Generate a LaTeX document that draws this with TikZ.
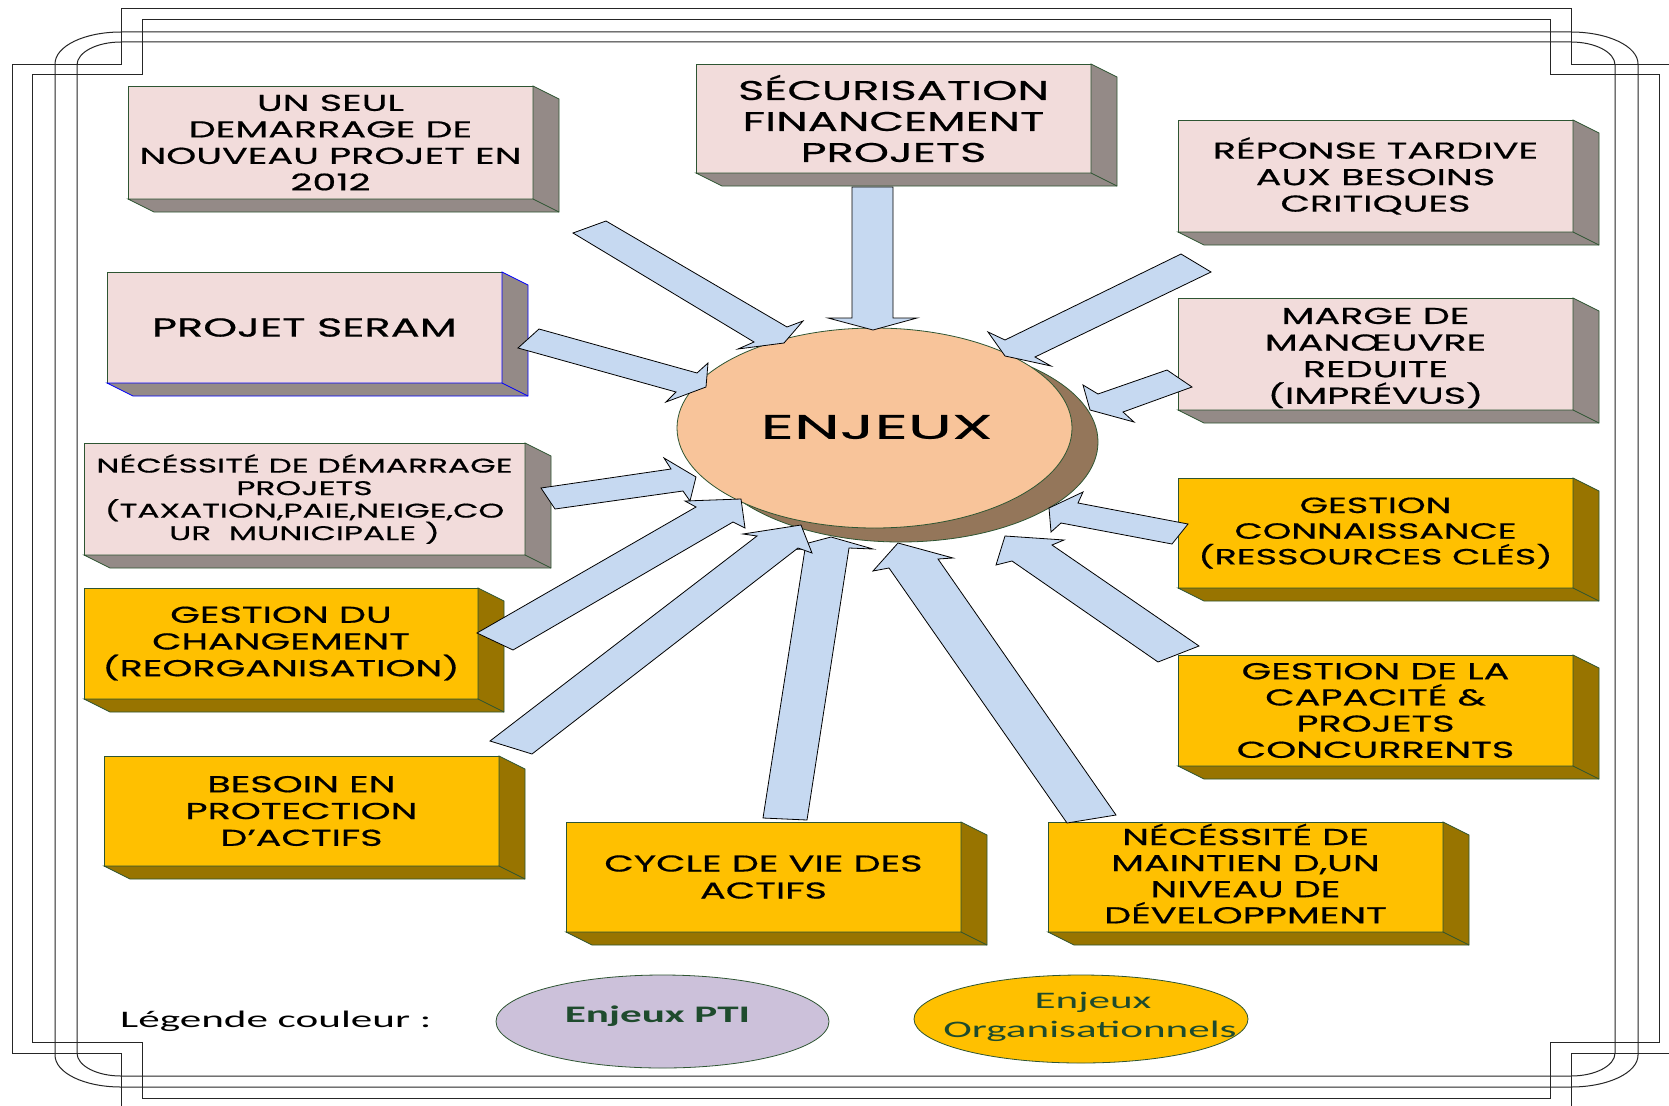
\documentclass[tikz,border=0pt]{standalone}
\usepackage{fontspec}
\usetikzlibrary{shapes.geometric}
\newfontfamily\bxf[FakeStretch=1.66,FakeBold=0.6]{Poppins}
\newfontfamily\bigf[FakeStretch=1.92,FakeBold=0.6]{Poppins}
\newfontfamily\lgf[FakeStretch=1.82]{Carlito}
\definecolor{pinkf}{HTML}{F2DCDB}
\definecolor{pinks}{HTML}{948A87}
\definecolor{goldf}{HTML}{FFC000}
\definecolor{golds}{HTML}{987400}
\definecolor{edgec}{HTML}{2E5532}
\definecolor{arrowf}{HTML}{C6D9F1}
\definecolor{ellf}{HTML}{F8C49A}
\definecolor{ells}{HTML}{94765A}
\definecolor{ptif}{HTML}{CCC1DA}
\definecolor{legtxt}{HTML}{1E4B2D}
\tikzset{
  frameline/.style={line width=1pt, draw=black!85},
  bx/.style={draw=edgec, line width=0.8pt, inner sep=0pt, outer sep=0pt, align=center, text=black},
  pinkbox/.style={bx, fill=pinkf},
  goldbox/.style={bx, fill=goldf},
  blockarrow/.style={fill=arrowf, draw=black, line width=0.8pt, line join=miter},
}
\newcommand\tbox[8]{% name, style, cx, cy, w, h, font, text
  \node[#2, minimum width=#5pt, minimum height=#6pt, font=#7] (#1) at (#3,#4) {#8};}
\newcommand\extrude[3]{% name, fill, edge
  \filldraw[fill=#2, draw=#3, line width=0.8pt, line join=miter]
    (#1.north east) -- ([shift={(26,13)}]#1.north east) -- ([shift={(26,13)}]#1.south east)
    -- ([shift={(26,13)}]#1.south west) -- (#1.south west) -- (#1.south east) -- cycle;
  \draw[#3, line width=0.8pt] (#1.south east) -- ([shift={(26,13)}]#1.south east);}
\begin{document}
\begin{tikzpicture}[x=1pt,y=-1pt]
\useasboundingbox (0,0) rectangle (1669,1105);
\clip (0,0) rectangle (1669,1105);
\fill[white] (0,0) rectangle (1669,1105);
% ---- frame ----
\draw[frameline] (121,9) -- (1571,9) -- (1571,65) -- (1682,65) -- (1682,1053) -- (1571,1053) -- (1571,1110)
  -- (121,1110) -- (121,1053) -- (12,1053) -- (12,65) -- (121,65) -- cycle;
\draw[frameline] (142,20) -- (1550,20) -- (1550,75) -- (1659,75) -- (1659,1042) -- (1550,1042) -- (1550,1098)
  -- (142,1098) -- (142,1042) -- (32,1042) -- (32,75) -- (142,75) -- cycle;
\draw[frameline] (121,32) -- (1571,32) .. controls (1607.5,32) and (1638,46) .. (1638,64) -- (1638,1055)
  .. controls (1638,1073) and (1607.5,1087) .. (1571,1087) -- (121,1087)
  .. controls (84.5,1087) and (55,1073) .. (55,1055) -- (55,64)
  .. controls (55,46) and (84.5,32) .. (121,32) -- cycle;
\draw[frameline] (121,42) -- (1571,42) .. controls (1595.3,42) and (1615,52.3) .. (1615,65) -- (1615,1053)
  .. controls (1615,1065.7) and (1595.3,1076) .. (1571,1076) -- (121,1076)
  .. controls (96.7,1076) and (77,1065.7) .. (77,1053) -- (77,65)
  .. controls (77,52.3) and (96.7,42) .. (121,42) -- cycle;
% ---- boxes ----
\tbox{b1}{pinkbox}{330.5}{142.5}{405}{113}{\bxf\fontsize{23}{26.5}\selectfont}{UN SEUL\\DEMARRAGE DE\\NOUVEAU PROJET EN\\2012}
\extrude{b1}{pinks}{edgec}
\tbox{b2}{pinkbox}{893.5}{118.5}{395}{109}{\bxf\fontsize{27}{31}\selectfont}{SÉCURISATION\\FINANCEMENT\\PROJETS}
\extrude{b2}{pinks}{edgec}
\tbox{b3}{pinkbox}{1375.5}{176}{395}{112}{\bxf\fontsize{23}{26.5}\selectfont}{RÉPONSE TARDIVE\\AUX BESOINS\\CRITIQUES}
\extrude{b3}{pinks}{edgec}
\tbox{b4}{pinkbox}{304.5}{327.5}{395}{111}{\bxf\fontsize{26}{30}\selectfont}{PROJET SERAM}
\extrude{b4}{pinks}{blue}
\tbox{b5}{pinkbox}{1375.5}{354}{395}{112}{\bxf\fontsize{23}{26.6}\selectfont}{\rule{0pt}{24pt}MARGE DE\\MANŒUVRE\\REDUITE\\(IMPRÉVUS)}
\extrude{b5}{pinks}{edgec}
\tbox{b6}{pinkbox}{304.5}{499}{441}{112}{\bxf\fontsize{19.8}{22.5}\selectfont}{NÉCÉSSITÉ DE DÉMARRAGE\\PROJETS\\(TAXATION,PAIE,NEIGE,CO\\UR\ \ MUNICIPALE )}
\extrude{b6}{pinks}{edgec}
\tbox{b7}{goldbox}{1375.5}{533}{395}{110}{\bxf\fontsize{22}{25.7}\selectfont}{GESTION\\CONNAISSANCE\\(RESSOURCES CLÉS)}
\extrude{b7}{golds}{edgec}
\tbox{b8}{goldbox}{281}{643.5}{394}{111}{\bxf\fontsize{23}{26.7}\selectfont}{GESTION DU\\CHANGEMENT\\(REORGANISATION)}
\extrude{b8}{golds}{edgec}
\tbox{b9}{goldbox}{1375.5}{710.5}{395}{111}{\bxf\fontsize{23}{26.2}\selectfont}{GESTION DE LA\\CAPACITÉ \&\\PROJETS\\CONCURRENTS}
\extrude{b9}{golds}{edgec}
\tbox{b10}{goldbox}{301.5}{811}{395}{110}{\bxf\fontsize{23}{26.8}\selectfont}{BESOIN EN\\PROTECTION\\D’ACTIFS}
\extrude{b10}{golds}{edgec}
\tbox{b11}{goldbox}{763.5}{877}{395}{110}{\bxf\fontsize{23}{27}\selectfont}{CYCLE DE VIE DES\\ACTIFS}
\extrude{b11}{golds}{edgec}
\tbox{b12}{goldbox}{1245.5}{877}{395}{110}{\bxf\fontsize{23}{26.1}\selectfont}{NÉCÉSSITÉ DE\\MAINTIEN D,UN\\NIVEAU DE\\DÉVELOPPMENT\rule[-7pt]{0pt}{7pt}}
\extrude{b12}{golds}{edgec}
% ---- central ellipse ----
\filldraw[fill=ells, draw=edgec, line width=0.8pt] (900.5,442) ellipse [x radius=197.5, y radius=100];
\filldraw[fill=ellf, draw=edgec, line width=0.8pt] (874.5,428) ellipse [x radius=197.5, y radius=100];
\node[inner sep=0pt, font=\bigf\fontsize{34}{36}\selectfont] (enj) at (876.5,427) {ENJEUX};
% ---- block arrows ----
\draw[blockarrow] (763,818) -- (805,549) -- (782,550) -- (831,537) -- (873,549) -- (849,548) -- (807,820) -- cycle;
\draw[blockarrow] (1067,823) -- (889,568) -- (873,571) -- (898,543) -- (953,558) -- (938,559) -- (1116,815) -- cycle;
\draw[blockarrow] (477,633) -- (696,507) -- (685,501) -- (741,499) -- (745,528) -- (733,522) -- (513,650) -- cycle;
\draw[blockarrow] (490,741) -- (757,536) -- (743,534) -- (801,525) -- (812,553) -- (798,548) -- (532,754) -- cycle;
\draw[blockarrow] (541,488) -- (671,469) -- (664,458) -- (696,477) -- (690,501) -- (683,491) -- (555,509) -- cycle;
\draw[blockarrow] (573,233) -- (606,221) -- (787,327) -- (803,321) -- (784,343) -- (738,349) -- (754,342) -- cycle;
\draw[blockarrow] (852,187) -- (893,187) -- (893,318) -- (917,318) -- (873,330) -- (828,318) -- (852,318) -- cycle;
\draw[blockarrow] (1181,254) -- (1211,272) -- (1035,357) -- (1051,366) -- (1005,356) -- (988,332) -- (1005,340) -- cycle;
\draw[blockarrow] (539,329) -- (697,373) -- (708,363) -- (706,387) -- (666,402) -- (676,392) -- (518,348) -- cycle;
\draw[blockarrow] (1167,370) -- (1192,387) -- (1123,412) -- (1134,422) -- (1090,410) -- (1083,385) -- (1098,394) -- cycle;
\draw[blockarrow] (1188,524) -- (1078,503) -- (1083,492) -- (1049,508) -- (1051,532) -- (1061,523) -- (1172,544) -- cycle;
\draw[blockarrow] (1158,662) -- (1012,561) -- (996,565) -- (1005,536) -- (1064,540) -- (1052,545) -- (1199,646) -- cycle;
% ---- legend ----
\node[anchor=base west, inner sep=0pt, font=\lgf\fontsize{23.7}{28}\selectfont] (leg) at (120,1027) {Légende couleur :};
\node[draw=edgec, line width=0.8pt, fill=ptif, ellipse, minimum width=333pt, minimum height=93pt, inner sep=0pt] (pti) at (662.5,1021.5) {};
\node[anchor=base, inner sep=0pt, text=legtxt, font=\lgf\bfseries\fontsize{23.7}{28}\selectfont] (ptitxt) at (657.5,1022) {Enjeux PTI};
\node[draw=edgec, line width=0.8pt, fill=goldf, ellipse, minimum width=334pt, minimum height=88pt, inner sep=0pt] (org) at (1081,1019) {};
\node[anchor=base, inner sep=0pt, text=legtxt, font=\lgf\fontsize{23.7}{28}\selectfont] (orgtxt1) at (1093,1008) {Enjeux};
\node[anchor=base, inner sep=0pt, text=legtxt, font=\lgf\fontsize{23.7}{28}\selectfont] (orgtxt2) at (1090,1037) {Organisationnels};
\end{tikzpicture}
\end{document}
